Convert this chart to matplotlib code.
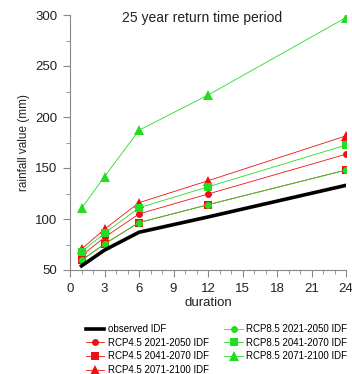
import matplotlib.pyplot as plt
from matplotlib.ticker import MultipleLocator

plt.rcParams['font.family'] = ['Liberation Sans', 'DejaVu Sans']

duration = [1, 3, 6, 12, 24]
observed = [54, 69.5, 87, 102, 133]
rcp45_2021_2050 = [64, 82, 105, 124.5, 163.5]
rcp45_2041_2070 = [59.5, 75.5, 96.5, 114, 148]
rcp45_2071_2100 = [70.5, 90, 116, 137.5, 181.5]
rcp85_2021_2050 = [59.5, 75.5, 96.5, 114, 148]
rcp85_2041_2070 = [68, 86, 111, 131.5, 172.5]
rcp85_2071_2100 = [110.5, 141.5, 187, 221.5, 297.5]

RED = "#ee1111"
GREEN = "#22dd22"

fig = plt.figure(figsize=(3.52, 3.74), dpi=100)
ax = fig.add_axes([70 / 352, 1 - 270 / 374, 276 / 352, 255 / 374])

ax.plot(duration, observed, color="black", lw=2.6, label="observed IDF", zorder=5)
ax.plot(duration, rcp45_2021_2050, color=RED, lw=0.6, marker="o", ms=5,
        markeredgewidth=0, label="RCP4.5 2021-2050 IDF")
ax.plot(duration, rcp45_2041_2070, color=RED, lw=0.6, marker="s", ms=5.5,
        markeredgewidth=0, label="RCP4.5 2041-2070 IDF")
ax.plot(duration, rcp45_2071_2100, color=RED, lw=0.6, marker="^", ms=7,
        markeredgewidth=0, label="RCP4.5 2071-2100 IDF")
ax.plot(duration, rcp85_2021_2050, color=GREEN, lw=0.6, marker="o", ms=5,
        markeredgewidth=0, label="RCP8.5 2021-2050 IDF")
ax.plot(duration, rcp85_2041_2070, color=GREEN, lw=0.6, marker="s", ms=5.5,
        markeredgewidth=0, label="RCP8.5 2041-2070 IDF")
ax.plot(duration, rcp85_2071_2100, color=GREEN, lw=0.6, marker="^", ms=7,
        markeredgewidth=0, label="RCP8.5 2071-2100 IDF")

ax.set_xlim(0, 24)
ax.set_ylim(50, 300)
ax.xaxis.set_major_locator(MultipleLocator(3))
ax.xaxis.set_minor_locator(MultipleLocator(1))
ax.yaxis.set_major_locator(MultipleLocator(50))
ax.yaxis.set_minor_locator(MultipleLocator(25))

for side in ["top", "right"]:
    ax.spines[side].set_visible(False)
for side in ["left", "bottom"]:
    ax.spines[side].set_color("#888888")
    ax.spines[side].set_linewidth(0.8)
ax.tick_params(which="major", direction="out", length=5, color="#888888",
               labelsize=9.5, labelcolor="#222222", pad=4)
ax.tick_params(which="minor", direction="out", length=3, color="#888888")

ax.set_xlabel("duration", fontsize=9.5, labelpad=2, color="#222222")
ax.set_ylabel("rainfall value (mm)", fontsize=8.5, labelpad=4, color="#222222")
ax.text(0.48, 0.99, "25 year return time period", transform=ax.transAxes,
        ha="center", va="center", fontsize=10, color="#222222")

fig.legend(loc="upper left", bbox_to_anchor=(86 / 352, 1 - 324 / 374), ncol=2,
           frameon=False, fontsize=7, handlelength=1.9, handletextpad=0.35,
           columnspacing=1.6, labelspacing=0.38, borderaxespad=0,
           borderpad=0)

fig.savefig("out.png", dpi=100)
